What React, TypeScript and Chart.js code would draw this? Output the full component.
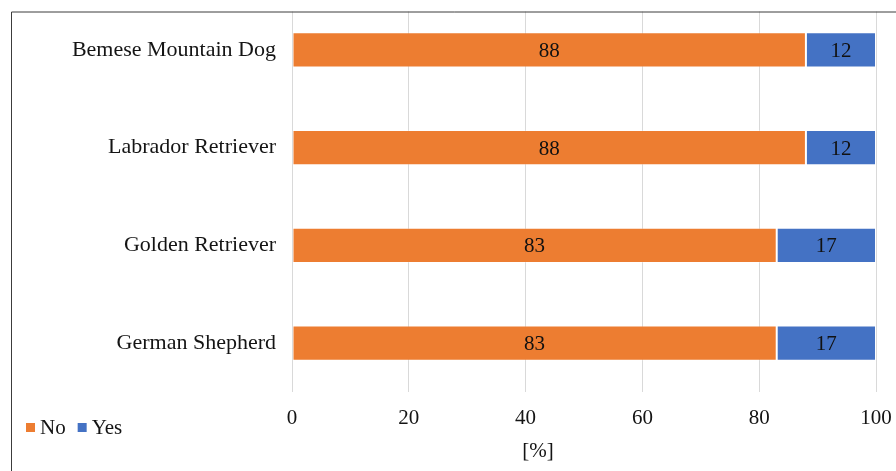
import React, { useEffect, useRef } from "react";
import { Chart, registerables } from "chart.js";

Chart.register(...registerables);

const categories = ["Bemese Mountain Dog", "Labrador Retriever", "Golden Retriever", "German Shepherd"];
const noValues = [88, 88, 83, 83];
const yesValues = [12, 12, 17, 17];
const seriesNames = ["No", "Yes"];
const seriesColors = ["#ED7D31", "#4472C4"];
const xTickValues = [0, 20, 40, 60, 80, 100];
const xAxisTitle = "[%]";

const FONT = '"Liberation Serif", "Times New Roman", serif';
const TEXT = "#141414";

const decorPlugin = {
  id: "decor",
  afterDraw(chart: any) {
    const ctx = chart.ctx;
    ctx.save();
    // clip area above frame
    ctx.fillStyle = "#ffffff";
    ctx.fillRect(0, 0, chart.width, 11.5);
    // frame
    ctx.strokeStyle = "#3c3c3c";
    ctx.lineWidth = 1;
    ctx.beginPath();
    ctx.moveTo(chart.width + 2, 12);
    ctx.lineTo(11.5, 12);
    ctx.lineTo(11.5, chart.height + 2);
    ctx.stroke();

    // data labels
    ctx.font = `21px ${FONT}`;
    ctx.fillStyle = "#111";
    ctx.textAlign = "center";
    ctx.textBaseline = "middle";
    chart.data.datasets.forEach((ds: any, di: number) => {
      const meta = chart.getDatasetMeta(di);
      meta.data.forEach((el: any, i: number) => {
        const p = el.getProps(["x", "y", "base"], true);
        const cx = (p.x + p.base) / 2;
        ctx.fillText(String(ds.data[i]), cx, p.y + 1.5);
      });
    });

    // axis title
    ctx.fillStyle = TEXT;
    ctx.fillText(xAxisTitle, 538, 451);

    // legend
    let x = 26;
    const ly = 427;
    ctx.textAlign = "left";
    chart.data.datasets.forEach((ds: any) => {
      ctx.fillStyle = ds.backgroundColor;
      ctx.fillRect(x, ly - 4, 9, 9);
      x += 14;
      ctx.fillStyle = TEXT;
      ctx.fillText(ds.label, x, ly + 1);
      x += ctx.measureText(ds.label).width + 12;
    });
    ctx.restore();
  },
};

export default function App() {
  const ref = useRef<HTMLCanvasElement>(null);
  useEffect(() => {
    document.body.style.margin = "0";
    const chart = new Chart(ref.current as HTMLCanvasElement, {
      type: "bar",
      data: {
        labels: categories,
        datasets: [
          {
            label: seriesNames[0],
            data: noValues,
            backgroundColor: seriesColors[0],
            borderColor: "rgba(255,255,255,0.25)",
            borderWidth: 1,
            borderSkipped: false,
            categoryPercentage: 1,
            barPercentage: 0.36,
          },
          {
            label: seriesNames[1],
            data: yesValues,
            backgroundColor: seriesColors[1],
            borderColor: "rgba(255,255,255,0.25)",
            borderWidth: 1,
            borderSkipped: false,
            categoryPercentage: 1,
            barPercentage: 0.36,
          },
        ],
      },
      options: {
        indexAxis: "y",
        animation: false,
        responsive: false,
        maintainAspectRatio: false,
        layout: { padding: { left: 0, top: 1, right: 20, bottom: 0 } },
        plugins: {
          legend: { display: false },
          tooltip: { enabled: false },
        },
        scales: {
          x: {
            stacked: true,
            min: 0,
            max: 100,
            afterFit: (s: any) => {
              s.height = 79;
              s.paddingLeft = 0;
              s.paddingRight = 0;
            },
            afterBuildTicks: (s: any) => {
              s.ticks = xTickValues.map((v) => ({ value: v }));
            },
            grid: { color: "#d9d9d9", lineWidth: 1, drawTicks: false },
            border: { display: false },
            ticks: {
              padding: 14,
              color: TEXT,
              font: { family: FONT, size: 21 },
            },
          },
          y: {
            stacked: true,
            afterFit: (s: any) => {
              s.width = 292;
              s.paddingTop = 0;
              s.paddingBottom = 0;
            },
            grid: { display: false, drawTicks: false },
            border: { display: false },
            ticks: {
              padding: 16,
              color: TEXT,
              font: { family: FONT, size: 22 },
            },
          },
        },
      },
      plugins: [decorPlugin],
    } as any);
    return () => chart.destroy();
  }, []);
  return (
    <div style={{ position: "absolute", left: 0, top: 0, width: 896, height: 471 }}>
      <canvas ref={ref} width={896} height={471} style={{ width: 896, height: 471 }} />
    </div>
  );
}
